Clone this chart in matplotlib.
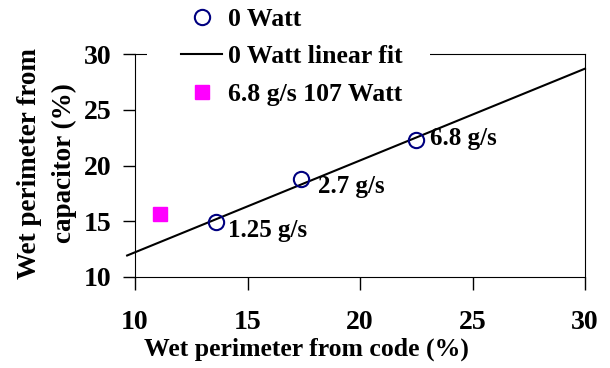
import numpy as np
import matplotlib
matplotlib.use("Agg")
import matplotlib.pyplot as plt
from matplotlib.patches import Rectangle

plt.rcParams['font.family'] = ['Liberation Serif', 'DejaVu Serif']
plt.rcParams['font.weight'] = 'bold'

x0 = [13.6, 17.4, 22.5]
y0 = [14.9, 18.8, 22.3]
labels0 = ["1.25 g/s", "2.7 g/s", "6.8 g/s"]
x107 = [11.1]
y107 = [15.65]
fit_x_range = [9.65, 30.0]

fig = plt.figure(figsize=(6.1, 3.68), dpi=100)
ax = fig.add_axes([135/610, 1-277/368, 450/610, 223/368])

slope, intercept = np.polyfit(x0, y0, 1)
fx = np.array(fit_x_range)
ax.plot(fx, slope*fx + intercept, color='black', lw=1.5, clip_on=False,
        label='0 Watt linear fit', zorder=2)
ax.plot(x0, y0, 'o', ms=11, mfc='none', mec='#000080', mew=1.5, ls='none',
        label='0 Watt', zorder=3)
ax.plot(x107, y107, 's', ms=10, color='#FF00FF', ls='none',
        label='6.8 g/s 107 Watt', zorder=3)

offsets = [(0.55, -0.75), (0.75, -0.7), (0.6, 0.1)]
for xi, yi, lab, (dx, dy) in zip(x0, y0, labels0, offsets):
    ax.text(xi + dx, yi + dy, lab, fontsize=18, fontweight='bold', va='center', ha='left')

ax.set_xlim(10, 30)
ax.set_ylim(10, 30)
ax.set_xticks([10, 15, 20, 25, 30])
ax.set_yticks([10, 15, 20, 25, 30])
ax.tick_params(axis='both', direction='out', length=9, width=1, labelsize=20)
ax.tick_params(axis='x', pad=15)
ax.tick_params(axis='y', pad=8)
for lab in ax.get_xticklabels() + ax.get_yticklabels():
    lab.set_fontweight('bold')

ax.set_xlabel('Wet perimeter from code (%)', fontsize=18.5, fontweight='bold')
ax.xaxis.set_label_coords(0.382, -0.27)
ax.set_ylabel('Wet perimeter from\ncapacitor (%)', fontsize=19.5, fontweight='bold',
              linespacing=1.55)
ax.yaxis.set_label_coords(-0.128, 0.51)

# white gap in the top spine behind the legend
ax.add_patch(Rectangle(((147-135)/450, 1 - 3/223), (430-147)/450, 6/223,
                       transform=ax.transAxes, facecolor='white', edgecolor='none',
                       clip_on=False, zorder=4))

h, l = ax.get_legend_handles_labels()
order = [1, 0, 2]
leg = ax.legend([h[i] for i in order], [l[i] for i in order], loc='upper left',
                bbox_to_anchor=(0.065, 1.28), fontsize=18.5, frameon=False,
                handlelength=1.6, handletextpad=0.25, labelspacing=0.55,
                borderpad=0.15)
leg.set_zorder(6)
for t in leg.get_texts():
    t.set_fontweight('bold')

fig.savefig('out.png', dpi=100)
